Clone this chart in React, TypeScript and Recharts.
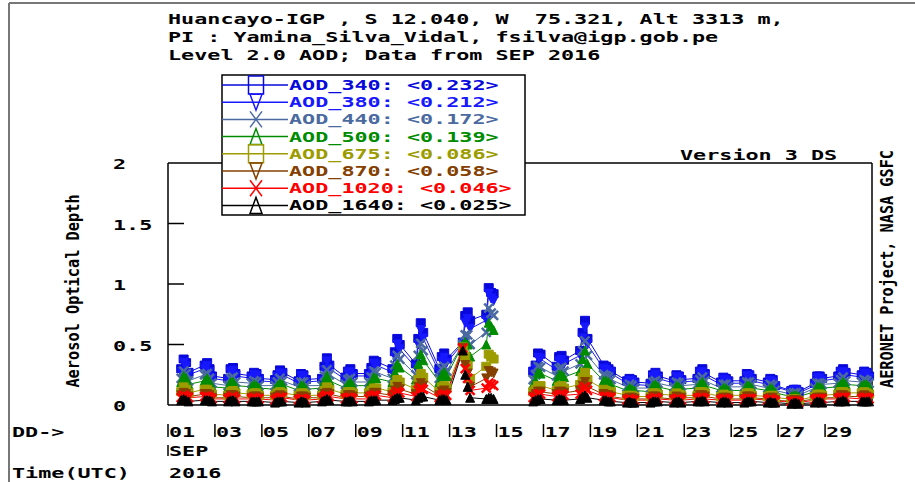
import { Line, LineChart, ReferenceLine, XAxis, YAxis } from "recharts";

const FONT = '"DejaVu Sans Mono", monospace';
const ADV = 13.1; // character pitch of the bitmap-like labels

// Days of Sep 2016 with Level 2.0 data (none on the 15th)
const DAYS = [1, 2, 3, 4, 5, 6, 7, 8, 9, 10, 11, 12, 13, 14, 16, 17, 18, 19, 20, 21, 22, 23, 24, 25, 26, 27, 28, 29, 30];
// observation times within each day, hours UTC
const HOURS_UTC = [13.5, 16, 18.5, 21];
const GAP_DAY = 15.5;

const X_TICKS = [1, 3, 5, 7, 9, 11, 13, 15, 17, 19, 21, 23, 25, 27, 29];
const Y_TICKS = [0, 0.5, 1, 1.5, 2];

const AOD_340 = [
  0.30, 0.38, 0.35, 0.27, 0.33, 0.35, 0.30, 0.24, 0.22, 0.30, 0.31, 0.26, 0.24, 0.27, 0.26, 0.22,
  0.21, 0.25, 0.29, 0.27, 0.20, 0.26, 0.25, 0.21, 0.22, 0.32, 0.39, 0.33, 0.23, 0.28, 0.30, 0.26,
  0.26, 0.31, 0.37, 0.36, 0.30, 0.44, 0.55, 0.50, 0.34, 0.55, 0.68, 0.60, 0.30, 0.40, 0.43, 0.38,
  0.52, 0.74, 0.77, 0.70, 0.75, 0.97, 0.93, 0.92,
  0.28, 0.33, 0.43, 0.42, 0.32, 0.40, 0.41, 0.37, 0.45, 0.60, 0.70, 0.55, 0.33, 0.32, 0.30, 0.28,
  0.20, 0.22, 0.21, 0.19, 0.18, 0.25, 0.27, 0.24, 0.20, 0.25, 0.24, 0.21, 0.22, 0.28, 0.30, 0.26,
  0.19, 0.23, 0.22, 0.20, 0.20, 0.26, 0.25, 0.22, 0.19, 0.22, 0.21, 0.16, 0.12, 0.13, 0.13, 0.11,
  0.18, 0.24, 0.24, 0.22, 0.24, 0.28, 0.30, 0.27, 0.25, 0.28, 0.27, 0.24,
];
const AOD_380 = [
  0.27, 0.35, 0.32, 0.25, 0.30, 0.32, 0.27, 0.22, 0.20, 0.27, 0.28, 0.24, 0.22, 0.25, 0.24, 0.20,
  0.19, 0.23, 0.26, 0.25, 0.18, 0.24, 0.23, 0.19, 0.20, 0.29, 0.36, 0.30, 0.21, 0.26, 0.27, 0.24,
  0.24, 0.28, 0.34, 0.33, 0.27, 0.40, 0.50, 0.46, 0.31, 0.50, 0.62, 0.55, 0.27, 0.36, 0.39, 0.35,
  0.51, 0.68, 0.71, 0.63, 0.70, 0.92, 0.88, 0.86,
  0.26, 0.30, 0.39, 0.38, 0.29, 0.36, 0.37, 0.34, 0.41, 0.55, 0.64, 0.50, 0.30, 0.29, 0.27, 0.26,
  0.18, 0.20, 0.19, 0.17, 0.16, 0.23, 0.25, 0.22, 0.18, 0.23, 0.22, 0.19, 0.20, 0.26, 0.27, 0.24,
  0.17, 0.21, 0.20, 0.18, 0.18, 0.24, 0.23, 0.20, 0.17, 0.20, 0.19, 0.15, 0.11, 0.12, 0.12, 0.10,
  0.16, 0.22, 0.22, 0.20, 0.22, 0.26, 0.27, 0.25, 0.23, 0.26, 0.25, 0.22,
];
const AOD_440 = [
  0.22, 0.28, 0.26, 0.20, 0.25, 0.26, 0.22, 0.18, 0.16, 0.22, 0.23, 0.19, 0.18, 0.20, 0.19, 0.16,
  0.16, 0.19, 0.22, 0.20, 0.15, 0.19, 0.19, 0.16, 0.16, 0.24, 0.29, 0.25, 0.17, 0.21, 0.22, 0.19,
  0.19, 0.23, 0.28, 0.27, 0.22, 0.33, 0.41, 0.38, 0.25, 0.41, 0.51, 0.45, 0.22, 0.30, 0.32, 0.28,
  0.50, 0.58, 0.58, 0.50, 0.60, 0.80, 0.76, 0.74,
  0.21, 0.25, 0.32, 0.31, 0.24, 0.30, 0.31, 0.28, 0.34, 0.45, 0.53, 0.41, 0.25, 0.24, 0.23, 0.21,
  0.15, 0.17, 0.16, 0.14, 0.14, 0.19, 0.20, 0.18, 0.15, 0.19, 0.18, 0.16, 0.17, 0.21, 0.23, 0.20,
  0.14, 0.17, 0.17, 0.15, 0.15, 0.19, 0.19, 0.17, 0.14, 0.17, 0.16, 0.12, 0.09, 0.10, 0.10, 0.08,
  0.14, 0.18, 0.18, 0.17, 0.18, 0.21, 0.23, 0.20, 0.19, 0.21, 0.20, 0.18,
];
const AOD_500 = [
  0.19, 0.24, 0.22, 0.17, 0.20, 0.22, 0.19, 0.15, 0.14, 0.19, 0.19, 0.16, 0.15, 0.17, 0.16, 0.14,
  0.13, 0.16, 0.18, 0.17, 0.12, 0.16, 0.16, 0.13, 0.14, 0.20, 0.24, 0.20, 0.14, 0.17, 0.19, 0.16,
  0.16, 0.19, 0.23, 0.22, 0.19, 0.27, 0.34, 0.31, 0.21, 0.34, 0.42, 0.37, 0.19, 0.25, 0.27, 0.24,
  0.50, 0.52, 0.50, 0.40, 0.50, 0.68, 0.65, 0.62,
  0.17, 0.20, 0.27, 0.26, 0.20, 0.25, 0.25, 0.23, 0.28, 0.38, 0.45, 0.34, 0.20, 0.20, 0.19, 0.17,
  0.12, 0.14, 0.13, 0.12, 0.11, 0.16, 0.17, 0.15, 0.12, 0.16, 0.15, 0.13, 0.14, 0.17, 0.19, 0.16,
  0.12, 0.14, 0.14, 0.12, 0.12, 0.16, 0.16, 0.14, 0.12, 0.14, 0.13, 0.10, 0.07, 0.08, 0.08, 0.07,
  0.11, 0.15, 0.15, 0.14, 0.15, 0.17, 0.19, 0.17, 0.16, 0.17, 0.17, 0.15,
];
const AOD_675 = [
  0.11, 0.15, 0.13, 0.10, 0.13, 0.13, 0.11, 0.09, 0.08, 0.11, 0.12, 0.10, 0.09, 0.10, 0.10, 0.08,
  0.08, 0.10, 0.11, 0.10, 0.08, 0.10, 0.10, 0.08, 0.08, 0.12, 0.15, 0.13, 0.09, 0.11, 0.11, 0.10,
  0.10, 0.12, 0.14, 0.14, 0.11, 0.17, 0.21, 0.19, 0.13, 0.21, 0.26, 0.23, 0.11, 0.15, 0.16, 0.14,
  0.48, 0.40, 0.33, 0.22, 0.32, 0.42, 0.40, 0.38,
  0.11, 0.13, 0.16, 0.16, 0.12, 0.15, 0.16, 0.14, 0.17, 0.23, 0.27, 0.21, 0.13, 0.12, 0.11, 0.11,
  0.08, 0.08, 0.08, 0.07, 0.07, 0.10, 0.10, 0.09, 0.08, 0.10, 0.09, 0.08, 0.08, 0.11, 0.11, 0.10,
  0.07, 0.09, 0.08, 0.08, 0.08, 0.10, 0.10, 0.08, 0.07, 0.08, 0.08, 0.06, 0.05, 0.05, 0.05, 0.04,
  0.07, 0.09, 0.09, 0.08, 0.09, 0.11, 0.11, 0.10, 0.10, 0.11, 0.10, 0.09,
];
const AOD_870 = [
  0.08, 0.10, 0.09, 0.07, 0.09, 0.09, 0.08, 0.06, 0.06, 0.08, 0.08, 0.07, 0.06, 0.07, 0.07, 0.06,
  0.06, 0.07, 0.08, 0.07, 0.05, 0.07, 0.07, 0.06, 0.06, 0.09, 0.10, 0.09, 0.06, 0.08, 0.08, 0.07,
  0.07, 0.08, 0.10, 0.10, 0.08, 0.12, 0.15, 0.13, 0.09, 0.15, 0.18, 0.16, 0.08, 0.11, 0.12, 0.10,
  0.47, 0.33, 0.26, 0.15, 0.22, 0.28, 0.27, 0.26,
  0.07, 0.09, 0.11, 0.11, 0.09, 0.11, 0.11, 0.10, 0.12, 0.16, 0.19, 0.15, 0.09, 0.08, 0.08, 0.07,
  0.05, 0.06, 0.06, 0.05, 0.05, 0.07, 0.07, 0.06, 0.05, 0.07, 0.06, 0.06, 0.06, 0.08, 0.08, 0.07,
  0.05, 0.06, 0.06, 0.05, 0.05, 0.07, 0.07, 0.06, 0.05, 0.06, 0.06, 0.04, 0.03, 0.04, 0.04, 0.03,
  0.05, 0.06, 0.06, 0.06, 0.06, 0.08, 0.08, 0.07, 0.07, 0.08, 0.07, 0.06,
];
const AOD_1020 = [
  0.06, 0.08, 0.07, 0.06, 0.07, 0.07, 0.06, 0.05, 0.05, 0.06, 0.07, 0.05, 0.05, 0.06, 0.05, 0.05,
  0.04, 0.05, 0.06, 0.06, 0.04, 0.05, 0.05, 0.04, 0.05, 0.07, 0.08, 0.07, 0.05, 0.06, 0.06, 0.05,
  0.05, 0.07, 0.08, 0.08, 0.06, 0.09, 0.11, 0.10, 0.07, 0.12, 0.14, 0.13, 0.06, 0.08, 0.09, 0.08,
  0.47, 0.30, 0.22, 0.12, 0.14, 0.18, 0.17, 0.16,
  0.06, 0.07, 0.09, 0.09, 0.07, 0.08, 0.09, 0.08, 0.09, 0.13, 0.15, 0.12, 0.07, 0.07, 0.06, 0.06,
  0.04, 0.05, 0.04, 0.04, 0.04, 0.05, 0.06, 0.05, 0.04, 0.05, 0.05, 0.04, 0.05, 0.06, 0.06, 0.05,
  0.04, 0.05, 0.05, 0.04, 0.04, 0.05, 0.05, 0.05, 0.04, 0.05, 0.04, 0.03, 0.03, 0.03, 0.03, 0.02,
  0.04, 0.05, 0.05, 0.05, 0.05, 0.06, 0.06, 0.06, 0.05, 0.06, 0.06, 0.05,
];
const AOD_1640 = [
  0.04, 0.05, 0.04, 0.03, 0.04, 0.04, 0.04, 0.03, 0.03, 0.04, 0.04, 0.03, 0.03, 0.03, 0.03, 0.03,
  0.02, 0.03, 0.03, 0.03, 0.02, 0.03, 0.03, 0.02, 0.03, 0.04, 0.05, 0.04, 0.03, 0.03, 0.04, 0.03,
  0.03, 0.04, 0.04, 0.04, 0.04, 0.05, 0.06, 0.06, 0.04, 0.06, 0.07, 0.07, 0.04, 0.05, 0.05, 0.04,
  0.45, 0.25, 0.15, 0.06, 0.05, 0.06, 0.06, 0.05,
  0.03, 0.04, 0.05, 0.05, 0.04, 0.05, 0.05, 0.04, 0.05, 0.07, 0.08, 0.06, 0.04, 0.04, 0.03, 0.03,
  0.02, 0.03, 0.02, 0.02, 0.02, 0.03, 0.03, 0.03, 0.02, 0.03, 0.03, 0.02, 0.03, 0.03, 0.04, 0.03,
  0.02, 0.03, 0.03, 0.02, 0.02, 0.03, 0.03, 0.03, 0.02, 0.03, 0.02, 0.02, 0.01, 0.02, 0.02, 0.01,
  0.02, 0.03, 0.03, 0.02, 0.03, 0.03, 0.04, 0.03, 0.03, 0.03, 0.03, 0.03,
];

// monthly means printed in the legend
const MEANS = [0.232, 0.212, 0.172, 0.139, 0.086, 0.058, 0.046, 0.025];

type Shape = "square" | "down" | "cross" | "up";

const SERIES: { key: string; label: string; color: string; shape: Shape; values: number[] }[] = [
  { key: "a340", label: "AOD_340", color: "#0808dc", shape: "square", values: AOD_340 },
  { key: "a380", label: "AOD_380", color: "#1818ff", shape: "down", values: AOD_380 },
  { key: "a440", label: "AOD_440", color: "#4a6aa0", shape: "cross", values: AOD_440 },
  { key: "a500", label: "AOD_500", color: "#008c00", shape: "up", values: AOD_500 },
  { key: "a675", label: "AOD_675", color: "#9c9c00", shape: "square", values: AOD_675 },
  { key: "a870", label: "AOD_870", color: "#844000", shape: "down", values: AOD_870 },
  { key: "a1020", label: "AOD_1020", color: "#ff0000", shape: "cross", values: AOD_1020 },
  { key: "a1640", label: "AOD_1640", color: "#000000", shape: "up", values: AOD_1640 },
];

type Row = Record<string, number | null>;

const rows: Row[] = [];
DAYS.forEach((day, i) => {
  if (day === 16) {
    // break the lines across the missing day
    const gap: Row = { t: GAP_DAY };
    SERIES.forEach((s) => (gap[s.key] = null));
    rows.push(gap);
  }
  HOURS_UTC.forEach((h, j) => {
    const row: Row = { t: day + h / 24 };
    SERIES.forEach((s) => (row[s.key] = s.values[i * HOURS_UTC.length + j]));
    rows.push(row);
  });
});

function markerPath(shape: Shape, x: number, y: number, w: number, h: number) {
  const a = w / 2;
  const b = h / 2;
  switch (shape) {
    case "square":
      return `M${x - a},${y - b}H${x + a}V${y + b}H${x - a}Z`;
    case "down":
      return `M${x - a},${y - b}H${x + a}L${x},${y + b}Z`;
    case "up":
      return `M${x - a},${y + b}H${x + a}L${x},${y - b}Z`;
    default:
      return `M${x - a},${y - b}L${x + a},${y + b}M${x + a},${y - b}L${x - a},${y + b}`;
  }
}

function MonoText({
  x,
  y,
  text,
  fill = "#000",
  size = 13.5,
  adv = ADV,
  anchor = "start",
  rotate,
}: {
  x: number;
  y: number;
  text: string;
  fill?: string;
  size?: number;
  adv?: number;
  anchor?: "start" | "middle" | "end";
  rotate?: number;
}) {
  return (
    <text
      x={x}
      y={y}
      fill={fill}
      fontFamily={FONT}
      fontWeight="bold"
      fontSize={size}
      textAnchor={anchor}
      textLength={text.length * adv}
      lengthAdjust="spacingAndGlyphs"
      transform={rotate ? `rotate(${rotate} ${x} ${y})` : undefined}
      style={{ whiteSpace: "pre" }}
    >
      {text}
    </text>
  );
}

// plot markers overlap into solid blobs, so fill them
function dotFor(shape: Shape, color: string) {
  return (props: any) => {
    const { cx, cy, index, value } = props;
    if (cx == null || cy == null || value == null) return <g key={`n-${index}`} />;
    return (
      <path
        key={`d-${index}`}
        d={markerPath(shape, cx, cy, 9, shape === "square" ? 8 : 9)}
        fill={shape === "cross" ? "none" : color}
        stroke={color}
        strokeWidth={shape === "cross" ? 2.5 : 1}
      />
    );
  };
}

function DayTick(props: any) {
  const { x, payload } = props;
  const v = payload.value as number;
  return (
    <g>
      <line x1={x} x2={x} y1={424} y2={437} stroke="#000" strokeWidth={1.5} />
      <MonoText x={x + 1} y={437} text={String(v).padStart(2, "0")} />
      {v === 1 && (
        <>
          <line x1={x} x2={x} y1={445} y2={456} stroke="#000" strokeWidth={1.5} />
          <MonoText x={x + 1} y={456} text="SEP" />
          <MonoText x={x + 1} y={478} text="2016" />
        </>
      )}
    </g>
  );
}

function AodTick(props: any) {
  const { y, payload } = props;
  const v = payload.value as number;
  return (
    <g>
      {v > 0 && v < 2 && <line x1={168} x2={184} y1={y} y2={y} stroke="#000" strokeWidth={1.5} />}
      <MonoText x={113} y={y + 6} text={String(v)} />
    </g>
  );
}

function Legend() {
  return (
    <g>
      <rect x={222} y={75} width={303} height={140} fill="#fff" stroke="#000" strokeWidth={1.5} />
      {SERIES.map((s, i) => {
        const y = 85 + i * 17.2;
        return (
          <g key={s.key}>
            <line x1={222} x2={288} y1={y} y2={y} stroke={s.color} strokeWidth={1.5} />
            <path
              d={markerPath(s.shape, 256, y, s.shape === "square" ? 15 : 12, s.shape === "square" ? 18 : 16)}
              fill="none"
              stroke={s.color}
              strokeWidth={1.5}
            />
            <MonoText x={289} y={y + 5} text={`${s.label}: <${MEANS[i].toFixed(3)}>`} fill={s.color} />
          </g>
        );
      })}
    </g>
  );
}

export default function App() {
  return (
    <div style={{ position: "absolute", left: 0, top: 0, width: 915, height: 482, background: "#fff" }}>
      <LineChart width={915} height={482} data={rows} margin={{ top: 163, right: 43, bottom: 0, left: 113 }}>
        <XAxis
          type="number"
          dataKey="t"
          domain={[1, 31]}
          ticks={X_TICKS}
          interval={0}
          height={77}
          axisLine={false}
          tickLine={false}
          tick={<DayTick />}
        />
        <YAxis
          type="number"
          domain={[0, 2]}
          ticks={Y_TICKS}
          interval={0}
          width={55}
          axisLine={false}
          tickLine={false}
          tick={<AodTick />}
        />
        <ReferenceLine x={1} stroke="#000" strokeWidth={1.5} />
        <ReferenceLine x={31} stroke="#000" strokeWidth={1.5} />
        <ReferenceLine y={0} stroke="#000" strokeWidth={1.5} />
        <ReferenceLine y={2} stroke="#000" strokeWidth={1.5} />
        {SERIES.map((s) => (
          <Line
            key={s.key}
            dataKey={s.key}
            stroke={s.color}
            strokeWidth={1}
            dot={dotFor(s.shape, s.color)}
            activeDot={false}
            connectNulls={false}
            isAnimationActive={false}
          />
        ))}
      </LineChart>
      <svg width={915} height={482} style={{ position: "absolute", left: 0, top: 0 }}>
        <line x1={9} x2={915} y1={3} y2={3} stroke="#777" strokeWidth={2} />
        <line x1={9} x2={9} y1={3} y2={482} stroke="#777" strokeWidth={2} />
        <MonoText x={168} y={24} text="Huancayo-IGP , S 12.040, W  75.321, Alt 3313 m," />
        <MonoText x={168} y={42} text="PI : Yamina_Silva_Vidal, fsilva@igp.gob.pe" />
        <MonoText x={168} y={60} text="Level 2.0 AOD; Data from SEP 2016" />
        <MonoText x={680} y={160} text="Version 3 DS" />
        <MonoText x={12} y={437} text="DD->" />
        <MonoText x={12} y={478} text="Time(UTC)" />
        <MonoText x={79} y={291} text="Aerosol Optical Depth" size={18} adv={9.2} anchor="middle" rotate={-90} />
        <MonoText x={893} y={269} text="AERONET Project, NASA GSFC" size={18} adv={9.15} anchor="middle" rotate={-90} />
        <Legend />
      </svg>
    </div>
  );
}
